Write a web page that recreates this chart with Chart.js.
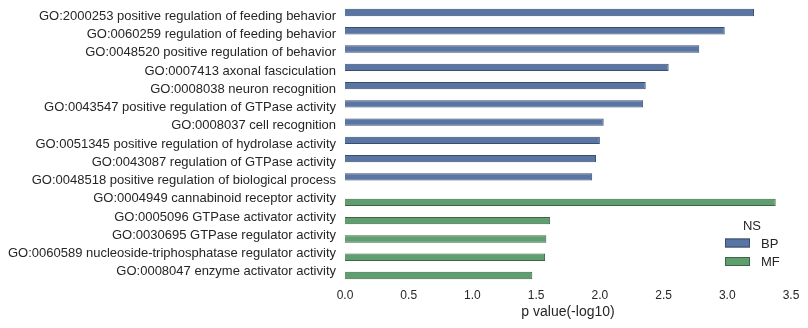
<!DOCTYPE html>
<html>
<head>
<meta charset="utf-8">
<script src="https://cdn.jsdelivr.net/npm/chart.js@4"></script>
<style>
  html, body { margin: 0; padding: 0; background: #fff; }
  #wrap { width: 808px; height: 328px; position: relative; }
</style>
</head>
<body>
<div id="wrap"><canvas id="myChart"></canvas></div>
<script>
var terms = [
    "GO:2000253 positive regulation of feeding behavior",
    "GO:0060259 regulation of feeding behavior",
    "GO:0048520 positive regulation of behavior",
    "GO:0007413 axonal fasciculation",
    "GO:0008038 neuron recognition",
    "GO:0043547 positive regulation of GTPase activity",
    "GO:0008037 cell recognition",
    "GO:0051345 positive regulation of hydrolase activity",
    "GO:0043087 regulation of GTPase activity",
    "GO:0048518 positive regulation of biological process",
    "GO:0004949 cannabinoid receptor activity",
    "GO:0005096 GTPase activator activity",
    "GO:0030695 GTPase regulator activity",
    "GO:0060589 nucleoside-triphosphatase regulator activity",
    "GO:0008047 enzyme activator activity"
];
// -log10 p values, null where the term belongs to the other namespace
var bpValues = [3.21, 2.98, 2.78, 2.54, 2.36, 2.34, 2.03, 2.0, 1.97, 1.94, null, null, null, null, null];
var mfValues = [null, null, null, null, null, null, null, null, null, null, 3.38, 1.61, 1.58, 1.57, 1.47];
var xTicks = [0, 0.5, 1, 1.5, 2, 2.5, 3, 3.5];

var font = "'Liberation Sans', Arial, sans-serif";
var textColor = "#262626";

// legend drawn inside the plot, lower right
var nsLegend = {
    id: 'nsLegend',
    afterDraw: function(chart) {
        var ctx = chart.ctx;
        var area = chart.chartArea;
        var x = area.right - 66;
        var y = area.bottom - 55;
        ctx.save();
        ctx.font = "13px " + font;
        ctx.fillStyle = textColor;
        ctx.textBaseline = 'middle';
        ctx.textAlign = 'center';
        ctx.fillText("NS", x + 27, y);
        ctx.textAlign = 'left';
        chart.data.datasets.forEach(function(ds, i) {
            var yy = y + 17 + i * 18.5;
            ctx.fillStyle = ds.backgroundColor;
            ctx.strokeStyle = ds.borderColor;
            ctx.lineWidth = 1;
            ctx.fillRect(x, yy - 4.5, 25, 9);
            ctx.strokeRect(x + 0.5, yy - 4, 24, 8);
            ctx.fillStyle = textColor;
            ctx.fillText(ds.label, x + 36, yy + 1);
        });
        ctx.restore();
    }
};

var ctx = document.getElementById("myChart").getContext('2d');
var chart = new Chart(ctx, {
    type: 'bar',
    data: {
        labels: terms,
        datasets: [{
            label: "BP",
            data: bpValues,
            backgroundColor: "#5875a4",
            borderColor: "#3c4d6b",
            borderWidth: 1,
            categoryPercentage: 0.8,
            barPercentage: 1.0
        }, {
            label: "MF",
            data: mfValues,
            backgroundColor: "#5f9e6e",
            borderColor: "#3e6547",
            borderWidth: 1,
            categoryPercentage: 0.8,
            barPercentage: 1.0
        }]
    },
    options: {
        indexAxis: 'y',
        responsive: true,
        maintainAspectRatio: false,
        animation: false,
        layout: { padding: { left: 0, right: 17, top: 7, bottom: 0 } },
        plugins: {
            legend: { display: false },
            tooltip: { enabled: false }
        },
        scales: {
            x: {
                min: 0,
                max: 3.5,
                grid: { display: false, drawTicks: false },
                border: { display: false },
                afterBuildTicks: function(scale) {
                    scale.ticks = xTicks.map(function(v) { return { value: v }; });
                },
                afterFit: function(scale) {
                    scale.height = 47;
                    scale.paddingLeft = 0;
                    scale.paddingRight = 0;
                },
                ticks: {
                    padding: 7,
                    color: textColor,
                    font: { family: font, size: 12 },
                    callback: function(v) { return Number(v).toFixed(1); }
                },
                title: {
                    display: true,
                    text: "p value(-log10)",
                    color: textColor,
                    font: { family: font, size: 14 },
                    padding: { top: 2, bottom: 7 }
                }
            },
            y: {
                grid: { display: false, drawTicks: false },
                border: { display: false },
                afterFit: function(scale) {
                    scale.width = 345;
                    scale.paddingTop = 0;
                    scale.paddingBottom = 0;
                },
                ticks: {
                    padding: 9,
                    color: textColor,
                    autoSkip: false,
                    font: { family: font, size: 13 }
                }
            }
        }
    },
    plugins: [nsLegend]
});
</script>
</body>
</html>
